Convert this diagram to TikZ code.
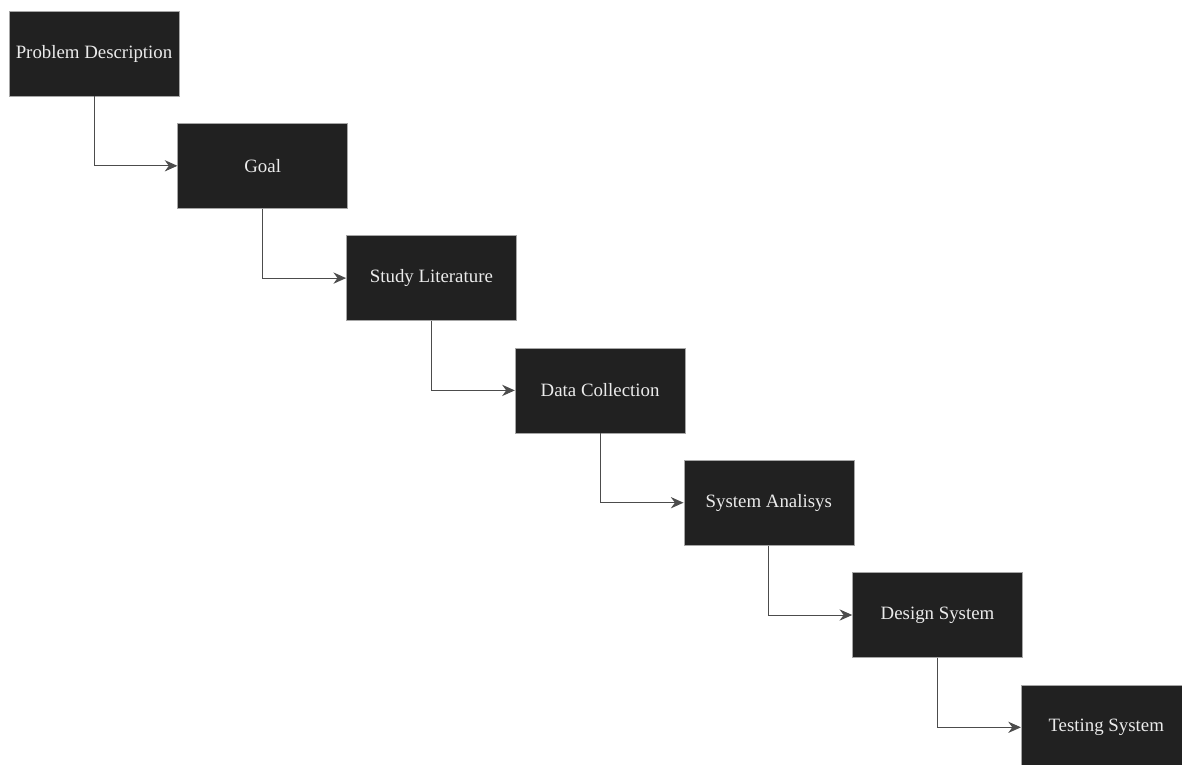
\documentclass[tikz,border=0pt]{standalone}
\usepackage{fontspec}
\setmainfont{Liberation Serif}
\usetikzlibrary{arrows.meta}

\begin{document}
\begin{tikzpicture}[x=0.025cm,y=-0.025cm]
	\tikzstyle{every node} = [draw=gray!70,shape=rectangle,fill=black!87,text=white!92!black,minimum width=4.25cm,minimum height=2.125cm,inner sep=0pt,font=\fontsize{13.4}{16}\selectfont]
	\tikzstyle{flow} = [draw=black!70,line width=0.7pt,-{Stealth[length=9pt,width=8pt]}]
	\useasboundingbox (0,0) rectangle (1182,764);
	\clip (0,0) rectangle (1182,764);
	\fill[white] (0,0) rectangle (1182,764);

	\node (PD) at (94,53.5) {Problem Description};
	\node (Goal) at (262.7,165.8) {Goal};
	\node (SL) at (431.4,278.1) {Study Literature};
	\node (DC) at (600.1,390.4) {Data Collection};
	\node (SA) at (768.8,502.7) {System Analisys};
	\node (DS) at (937.5,615) {Design System};
	\node (TS) at (1106.2,727.3) {Testing System};

	\draw [flow] (PD) |- (Goal);
	\draw [flow] (Goal) |- (SL);
	\draw [flow] (SL) |- (DC);
	\draw [flow] (DC) |- (SA);
	\draw [flow] (SA) |- (DS);
	\draw [flow] (DS) |- (TS);
\end{tikzpicture}
\end{document}
